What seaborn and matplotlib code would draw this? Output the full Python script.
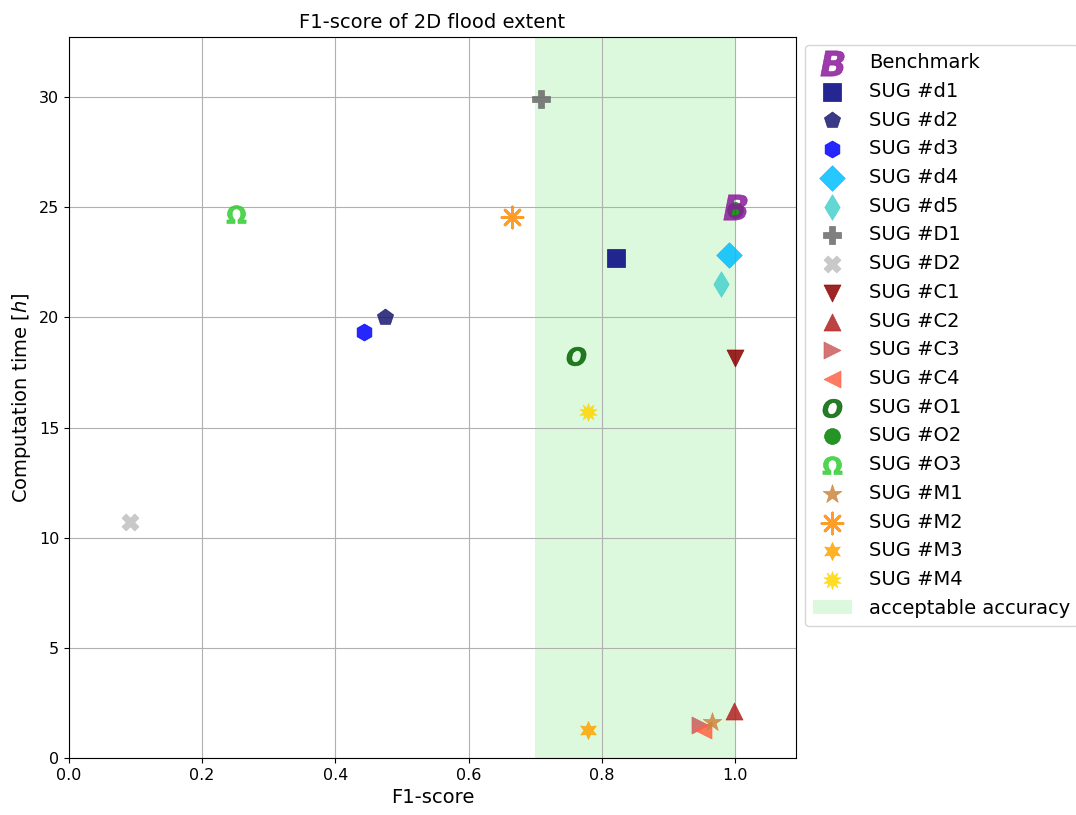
import matplotlib
matplotlib.use("Agg")
import matplotlib.pyplot as plt
import seaborn as sns
import pandas as pd

# values
labels = ["Benchmark", "SUG #d1", "SUG #d2", "SUG #d3", "SUG #d4", "SUG #d5",
          "SUG #D1", "SUG #D2", "SUG #C1", "SUG #C2", "SUG #C3", "SUG #C4",
          "SUG #O1", "SUG #O2", "SUG #O3", "SUG #M1", "SUG #M2", "SUG #M3", "SUG #M4"]
f1_score = [1.0, 0.821, 0.474, 0.443, 0.991, 0.979,
            0.709, 0.092, 1.0, 0.998, 0.947, 0.952,
            0.761, 1.0, 0.251, 0.965, 0.665, 0.779, 0.779]
comp_time = [25.0, 22.7, 20.0, 19.35, 22.83, 21.5,
             29.9, 10.7, 18.15, 2.13, 1.5, 1.27,
             18.25, 24.9, 24.7, 1.63, 24.55, 1.27, 15.7]
markers = [r"$\mathbfit{B}$", "s", "p", "h", "D", "d",
           "P", "X", "v", "^", ">", "<",
           r"$\mathbfit{O}$", "o", r"$\mathbf{\Omega}$", "*", (8, 2, 0), (6, 1, 0), (10, 1, 0)]
colors = ["#8b1a9b", "navy", "midnightblue", "blue", "deepskyblue", "mediumturquoise",
          "dimgray", "silver", "darkred", "firebrick", "indianred", "tomato",
          "darkgreen", "green", "limegreen", "peru", "darkorange", "orange", "gold"]
sizes = [330, 150, 150, 150, 170, 170,
         150, 150, 150, 150, 150, 150,
         190, 130, 190, 200, 230, 170, 170]
widths = [0.5] * len(labels)
widths[16] = 2

df = pd.DataFrame({"f1": f1_score, "time": comp_time})

fig = plt.figure(figsize=(10.76, 8.15), dpi=100)
ax = fig.add_axes([0.064, 0.070, 0.676, 0.885])

for i, lab in enumerate(labels):
    sns.scatterplot(data=df.iloc[[i]], x="f1", y="time", ax=ax, marker=markers[i],
                    color=colors[i], s=sizes[i], alpha=0.85, edgecolor="face",
                    linewidth=widths[i], label=lab, zorder=4 if i == 0 else 3)

ax.axvspan(0.7, 1.0, color="lightgreen", alpha=0.3, lw=0, zorder=0,
           label="acceptable accuracy")

ax.set_xlim(0, 1.092)
ax.set_ylim(0, 32.75)
ax.grid(True, color="#b0b0b0")
ax.tick_params(labelsize=11.5)
ax.set_xlabel("F1-score", fontsize=14)
ax.set_ylabel("Computation time [$h$]", fontsize=14)
ax.set_title("F1-score of 2D flood extent", fontsize=14)

ax.legend(loc="upper left", bbox_to_anchor=(1.012, 0.988), fontsize=14,
          labelspacing=0.5, borderaxespad=0, handletextpad=0.9)

fig.savefig("out.png", dpi=100)
